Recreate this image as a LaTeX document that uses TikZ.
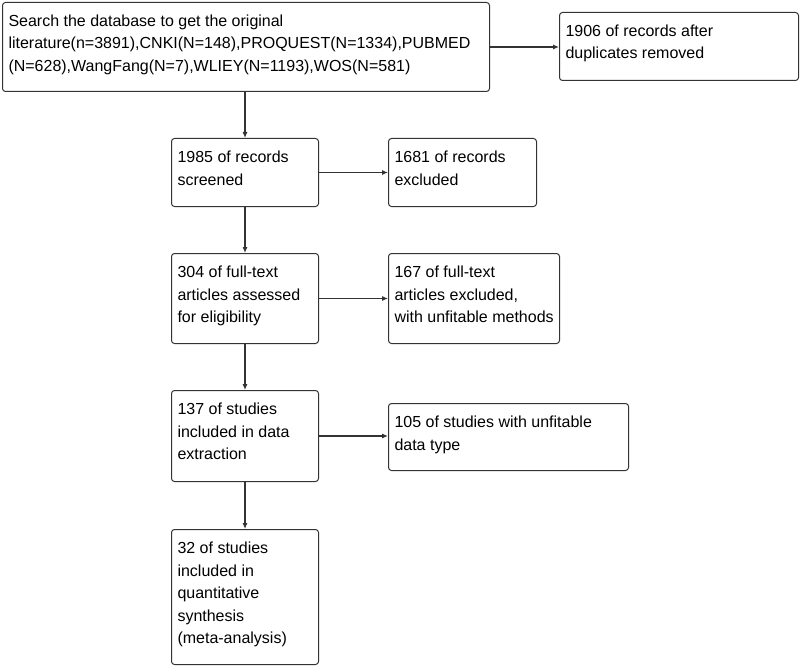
\documentclass[tikz,border=0pt]{standalone}
\usepackage{fontspec}
\setmainfont{Liberation Sans}
\usetikzlibrary{arrows.meta}
\definecolor{ln}{HTML}{333333}
\newcommand\bxc[3]{\parbox[c][#2pt][t]{#1pt}{\raggedright\leftskip=6pt\fontsize{16}{22.5}\selectfont\rule{0pt}{24pt}#3}}
\begin{document}
\begin{tikzpicture}[x=1pt,y=-1pt,
  box/.style={draw=ln, line width=1pt, rounded corners=3pt, inner sep=0pt, anchor=north west},
  arr/.style={draw=ln, line width=1.1pt, -{Latex[length=6pt,width=5pt]}}]
\useasboundingbox (0,0) rectangle (800,666);
\node[box] (a) at (2,2) {\bxc{487}{89}{Search the database to get the original\\literature(n=3891),CNKI(N=148),PROQUEST(N=1334),PUBMED\\(N=628),WangFang(N=7),WLIEY(N=1193),WOS(N=581)}};
\node[box] (b) at (559,12) {\bxc{239}{68}{1906 of records after\\duplicates removed}};
\node[box] (c) at (171,138) {\bxc{147}{68}{1985 of records\\screened}};
\node[box] (d) at (388,138) {\bxc{148}{68}{1681 of records\\excluded}};
\node[box] (e) at (171,253) {\bxc{147}{90}{304 of full-text\\articles assessed\\for eligibility}};
\node[box] (f) at (388,253) {\bxc{171}{90}{167 of full-text\\articles excluded,\\with unfitable methods}};
\node[box] (g) at (171,390) {\bxc{147}{91}{137 of studies\\included in data\\extraction}};
\node[box] (h) at (388,403) {\bxc{240}{67}{105 of studies with unfitable\\data type}};
\node[box] (i) at (171,529) {\bxc{147}{135}{32 of studies\\included in\\quantitative\\synthesis\\(meta-analysis)}};
\draw[arr] (a.east) -- (a.east -| b.west);
\draw[arr] (c.north |- a.south) -- (c.north);
\draw[arr] (c.east) -- (d.west);
\draw[arr] (c.south) -- (e.north);
\draw[arr] (e.east) -- (f.west);
\draw[arr] (e.south) -- (g.north);
\draw[arr] (g.east) -- (g.east -| h.west);
\draw[arr] (g.south) -- (i.north);
\end{tikzpicture}
\end{document}
